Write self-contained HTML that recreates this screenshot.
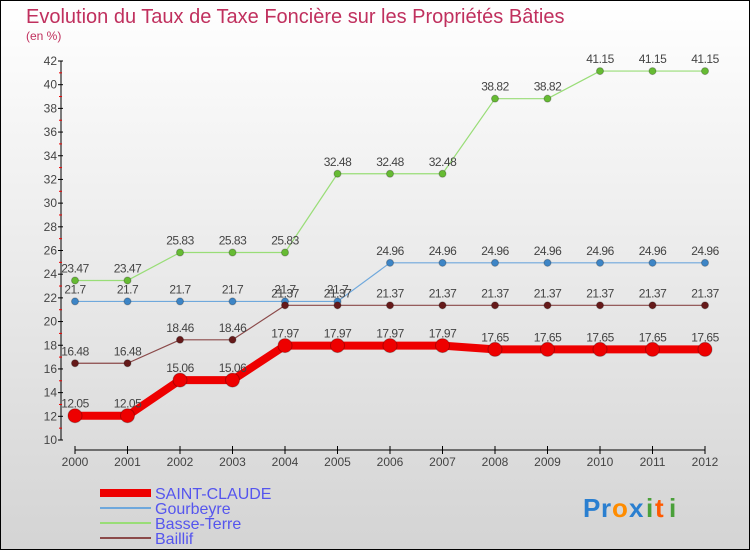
<!DOCTYPE html>
<html><head><meta charset="utf-8"><style>
body{margin:0;width:750px;height:550px;overflow:hidden;font-family:"Liberation Sans",sans-serif}
svg{display:block}
</style></head><body>
<svg id="c" width="750" height="550" xmlns="http://www.w3.org/2000/svg">
<defs><linearGradient id="bg" x1="0" y1="0" x2="0" y2="1"><stop offset="0" stop-color="#ffffff"/><stop offset="1" stop-color="#d4d4d4"/></linearGradient></defs>
<rect x="0.5" y="0.5" width="749" height="549" fill="url(#bg)" stroke="#000"/>
<text x="26" y="23" font-size="20" fill="#c0305e">Evolution du Taux de Taxe Foncière sur les Propriétés Bâties</text>
<text x="26" y="40" font-size="12" fill="#c0305e">(en %)</text>
<g id="axes"></g>
<g id="series"></g>
<g id="legend" font-size="16" fill="#5555ee"></g>
<g font-size="26" font-weight="bold">
<text x="583" y="517" fill="#2a7fd0">P</text><text x="601" y="517" fill="#2a7fd0">r</text><text x="612" y="517" fill="#ff8c00">o</text><text x="629" y="517" fill="#2a7fd0">x</text><text x="646" y="517" fill="#4aa03a">i</text><text x="655" y="517" fill="#ff5a00">t</text><text x="669" y="517" fill="#4aa03a">i</text>
</g>
</svg>
<script>
const years=[2000,2001,2002,2003,2004,2005,2006,2007,2008,2009,2010,2011,2012];
const saintClaude=[12.05,12.05,15.06,15.06,17.97,17.97,17.97,17.97,17.65,17.65,17.65,17.65,17.65];
const gourbeyre=[21.7,21.7,21.7,21.7,21.7,21.7,24.96,24.96,24.96,24.96,24.96,24.96,24.96];
const basseTerre=[23.47,23.47,25.83,25.83,25.83,32.48,32.48,32.48,38.82,38.82,41.15,41.15,41.15];
const baillif=[16.48,16.48,18.46,18.46,21.37,21.37,21.37,21.37,21.37,21.37,21.37,21.37,21.37];
const yTicks=[10,12,14,16,18,20,22,24,26,28,30,32,34,36,38,40,42];
const NS='http://www.w3.org/2000/svg';
const X=y=>75+(y-2000)*52.5;
const Y=v=>440-(v-10)*(379/32);
function mk(t,a,p,txt){const e=document.createElementNS(NS,t);for(const k in a)e.setAttribute(k,a[k]);if(txt!==undefined)e.textContent=txt;p.appendChild(e);return e;}
const ax=document.getElementById('axes');
let e=mk('line',{x1:61,y1:Y(42),x2:61,y2:Y(10),stroke:'#000'},ax);


e=mk('line',{x1:75,y1:450,x2:705,y2:450,stroke:'#000'},ax);


yTicks.forEach(v=>{
 mk('line',{x1:58,y1:Y(v),x2:63,y2:Y(v),stroke:'#000'},ax);
 if(v<42)mk('line',{x1:59,y1:Y(v+1),x2:62,y2:Y(v+1),stroke:'#e00'},ax);
 const t=mk('text',{x:57,y:Y(v)+4,'font-size':12,fill:'#444','text-anchor':'end'},ax,v);
 
 
});
years.forEach(y=>{
 mk('line',{x1:X(y),y1:446,x2:X(y),y2:454,stroke:'#000'},ax);
 const t=mk('text',{x:X(y),y:466,'font-size':12,fill:'#444','text-anchor':'middle'},ax,y);
 
 
});
const sg=document.getElementById('series');
function series(vals,color,dot,w,r,name){
 const g=mk('g',{},sg);
 
 
 mk('polyline',{points:vals.map((v,i)=>X(years[i])+','+Y(v)).join(' '),fill:'none',stroke:color,'stroke-width':w,'stroke-linejoin':'round'},g);
 vals.forEach((v,i)=>{
  const c=mk('circle',{cx:X(years[i]),cy:Y(v),r:r,fill:dot,stroke:'rgba(0,0,0,0.25)'},g);
  
  
  const t=mk('text',{x:X(years[i]),y:Y(v)-8,'font-size':12,fill:'#444','text-anchor':'middle','letter-spacing':'-0.5'},g,String(v));
  
  
 });
}
series(basseTerre,'#99dd77','#66bb33',1.2,3.5,'series-basse-terre');
series(gourbeyre,'#6fa8dc','#3d85c6',1.2,3.5,'series-gourbeyre');
series(baillif,'#8b4a4a','#661a1a',1.2,3.5,'series-baillif');
series(saintClaude,'#ee0000','#ee0000',8,7,'series-saint-claude');
const lg=document.getElementById('legend');
[['SAINT-CLAUDE','#ee0000',8],['Gourbeyre','#6fa8dc',2],['Basse-Terre','#99dd77',2],['Baillif','#8b4a4a',2]].forEach((d,i)=>{
 const y=493+i*15;
 const g=mk('g',{},lg);
 
 
 mk('line',{x1:100,y1:y,x2:151,y2:y,stroke:d[1],'stroke-width':d[2]},g);
 mk('text',{x:155,y:y+6},g,d[0]);
});
</script>
</body></html>
